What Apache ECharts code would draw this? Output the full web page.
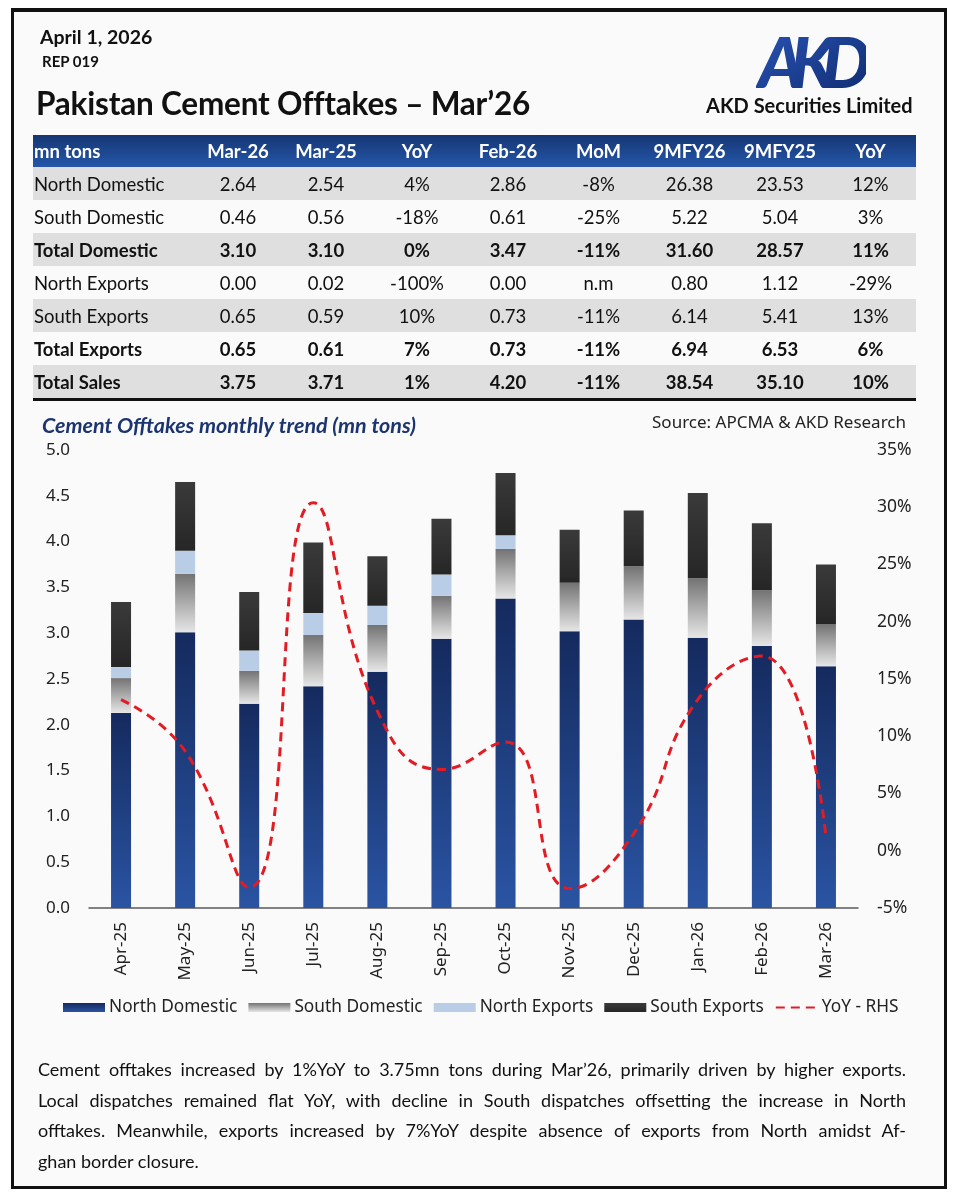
<!DOCTYPE html>
<html>
<head>
<meta charset="utf-8">
<script src="https://cdn.jsdelivr.net/npm/echarts@6/dist/echarts.min.js"></script>
<style>
  html, body { margin:0; padding:0; background:#ffffff; }
  body { width:958px; height:1200px; position:relative; overflow:hidden; font-family: Lato, "Open Sans", sans-serif; color:#111; }
  #frame { position:absolute; left:11px; top:8px; width:936px; height:1181px; box-sizing:border-box; border:3px solid #111; border-top-width:4px; background:#fafafa; }
  #chart { position:absolute; left:0; top:0; width:958px; height:1200px; z-index:2; }
  .abs { position:absolute; z-index:3; white-space:nowrap; }
  #date { left:40px; top:25px; font-size:19.5px; font-weight:700; }
  #rep { left:42px; top:52px; font-size:15px; font-weight:700; }
  #title { left:36px; top:84px; font-size:31.5px; font-weight:700; letter-spacing:-0.2px; }
  #akd { left:706px; top:93px; font-size:20px; font-weight:700; }
  #logo { left:756px; top:28px; }
  table#tbl { position:absolute; left:33px; top:135px; width:883px; border-collapse:collapse; z-index:3; font-size:18.5px; table-layout:fixed; }
  #tbl th { height:32px; padding:0; color:#fff; font-weight:700; text-align:center; }
  #tbl thead tr { background:linear-gradient(#163673, #2457aa); }
  #tbl td { height:33px; padding:0; text-align:center; }
  #tbl td:first-child, #tbl th:first-child { text-align:left; padding-left:1px; }
  #tbl tr.g { background:#dfdfdf; }
  #tbl tr.b td { font-weight:700; }
  #tbl tbody { border-bottom:3px solid #111; }
  #para { left:38px; top:1054px; width:868px; white-space:normal; font-size:18px; line-height:30.7px; color:#111; }
  #para .ln { text-align:justify; text-align-last:justify; white-space:nowrap; }
  #para .ln.last { text-align-last:left; }
</style>
</head>
<body>
<div id="frame"></div>
<div id="chart"></div>
<div class="abs" id="date">April 1, 2026</div>
<div class="abs" id="rep">REP 019</div>
<div class="abs" id="title">Pakistan Cement Offtakes – Mar’26</div>
<div class="abs" id="akd">AKD Securities Limited</div>
<svg class="abs" id="logo" width="110" height="64" viewBox="0 0 110 64">
  <defs>
    <linearGradient id="lg" x1="0" y1="0" x2="1" y2="1">
      <stop offset="0" stop-color="#2a56b8"/>
      <stop offset="1" stop-color="#0f2a6e"/>
    </linearGradient>
  </defs>
  <text x="2" y="60" font-family="Lato, sans-serif" font-weight="900" font-style="italic" font-size="70" letter-spacing="-14" fill="url(#lg)">AKD</text>
</svg>
<table id="tbl">
  <colgroup>
    <col style="width:162px"><col style="width:86px"><col style="width:90px"><col style="width:92px"><col style="width:90px"><col style="width:91px"><col style="width:91px"><col style="width:90px"><col style="width:91px">
  </colgroup>
  <thead><tr id="hdr"></tr></thead>
  <tbody id="tbody"></tbody>
</table>
<div class="abs" id="para">
  <div class="ln">Cement offtakes increased by 1%YoY to 3.75mn tons during Mar’26, primarily driven by higher exports.</div>
  <div class="ln">Local dispatches remained flat YoY, with decline in South dispatches offsetting the increase in North</div>
  <div class="ln">offtakes. Meanwhile, exports increased by 7%YoY despite absence of exports from North amidst Af-</div>
  <div class="ln last">ghan border closure.</div>
</div>

<script>
// ---- table data ----
const tableHeader = ['mn tons','Mar-26','Mar-25','YoY','Feb-26','MoM','9MFY26','9MFY25','YoY'];
const rowNorthDomestic = ['North Domestic','2.64','2.54','4%','2.86','-8%','26.38','23.53','12%'];
const rowSouthDomestic = ['South Domestic','0.46','0.56','-18%','0.61','-25%','5.22','5.04','3%'];
const rowTotalDomestic = ['Total Domestic','3.10','3.10','0%','3.47','-11%','31.60','28.57','11%'];
const rowNorthExports  = ['North Exports','0.00','0.02','-100%','0.00','n.m','0.80','1.12','-29%'];
const rowSouthExports  = ['South Exports','0.65','0.59','10%','0.73','-11%','6.14','5.41','13%'];
const rowTotalExports  = ['Total Exports','0.65','0.61','7%','0.73','-11%','6.94','6.53','6%'];
const rowTotalSales    = ['Total Sales','3.75','3.71','1%','4.20','-11%','38.54','35.10','10%'];

// ---- chart data ----
const months = ['Apr-25','May-25','Jun-25','Jul-25','Aug-25','Sep-25','Oct-25','Nov-25','Dec-25','Jan-26','Feb-26','Mar-26'];
const northDomestic = [2.13,3.01,2.23,2.42,2.58,2.94,3.38,3.02,3.15,2.95,2.86,2.64];
const southDomestic = [0.38,0.64,0.36,0.56,0.51,0.47,0.54,0.53,0.58,0.65,0.61,0.46];
const northExports  = [0.12,0.25,0.22,0.24,0.21,0.23,0.15,0.00,0.00,0.00,0.00,0.00];
const southExports  = [0.71,0.75,0.64,0.77,0.54,0.61,0.68,0.58,0.61,0.93,0.73,0.65];
const yoyPct        = [13.2,8.7,-3.2,30.4,12.2,7.1,9.5,-3.3,1.5,13.2,17.0,1.2];
const leftTicks = {min:0, max:5, interval:0.5};
const rightTicks = {min:-5, max:35, interval:5};

// build table
const hdr = document.getElementById('hdr');
tableHeader.forEach(h => { const th = document.createElement('th'); th.textContent = h; hdr.appendChild(th); });
const rows = [
  [rowNorthDomestic,'g',false],[rowSouthDomestic,'',false],[rowTotalDomestic,'g',true],
  [rowNorthExports,'',false],[rowSouthExports,'g',false],[rowTotalExports,'',true],[rowTotalSales,'g',true]
];
const tb = document.getElementById('tbody');
rows.forEach(([r,cls,bold]) => {
  const tr = document.createElement('tr');
  tr.className = (cls + (bold ? ' b' : '')).trim();
  r.forEach(v => { const td = document.createElement('td'); td.textContent = v; tr.appendChild(td); });
  tb.appendChild(tr);
});

// chart
const chart = echarts.init(document.getElementById('chart'), null, {renderer:'canvas'});
const axisFont = 'Noto Sans';
const grad = (c1, c2) => new echarts.graphic.LinearGradient(0,0,0,1,[{offset:0,color:c1},{offset:1,color:c2}]);
chart.setOption({
  backgroundColor:'transparent',
  animation:false,
  title:[
    {text:'Cement Offtakes monthly trend (mn tons)', left:37, top:410,
     textStyle:{fontFamily:'Lato', fontSize:21.5, fontWeight:'bold', fontStyle:'italic', color:'#1c3570'}},
    {text:'Source: APCMA & AKD Research', right:47, top:410,
     textStyle:{fontFamily:axisFont, fontSize:17, fontWeight:'normal', color:'#222'}}
  ],
  legend:{
    top:994, left:58, itemWidth:42, itemHeight:9, itemGap:11,
    textStyle:{fontFamily:axisFont, fontSize:17.3, color:'#222', padding:[0,0,0,-1]},
    data:[
      {name:'North Domestic', icon:'rect'},
      {name:'South Domestic', icon:'rect'},
      {name:'North Exports', icon:'rect'},
      {name:'South Exports', icon:'rect'},
      {name:'YoY - RHS', itemStyle:{opacity:0}}
    ]
  },
  grid:{left:89, right:100, top:450, bottom:292, containLabel:false},
  xAxis:{
    type:'category', data:months,
    axisLine:{lineStyle:{color:'#595959', width:1.5}},
    axisTick:{show:false},
    axisLabel:{rotate:90, margin:14, fontFamily:axisFont, fontSize:17, color:'#222'}
  },
  yAxis:[
    {type:'value', min:leftTicks.min, max:leftTicks.max, interval:leftTicks.interval,
     splitLine:{show:false}, axisLine:{show:false}, axisTick:{show:false},
     axisLabel:{margin:19, fontFamily:axisFont, fontSize:17, color:'#222', formatter:v=>v.toFixed(1)}},
    {type:'value', min:rightTicks.min, max:rightTicks.max, interval:rightTicks.interval, position:'right',
     splitLine:{show:false}, axisLine:{show:false}, axisTick:{show:false},
     axisLabel:{margin:19, fontFamily:axisFont, fontSize:17.5, color:'#222', formatter:'{value}%'}}
  ],
  series:[
    {name:'North Domestic', type:'bar', stack:'s', barWidth:20, data:northDomestic,
     itemStyle:{color:grad('#152a5e','#2a54a3')}},
    {name:'South Domestic', type:'bar', stack:'s', barWidth:20, data:southDomestic,
     itemStyle:{color:grad('#737373','#e6e6e6')}},
    {name:'North Exports', type:'bar', stack:'s', barWidth:20, data:northExports,
     itemStyle:{color:'#b9cde6'}},
    {name:'South Exports', type:'bar', stack:'s', barWidth:20, data:southExports,
     itemStyle:{color:grad('#3a3a3a','#262626')}},
    {name:'YoY - RHS', type:'line', yAxisIndex:1, data:yoyPct, smooth:0.5, showSymbol:false, symbol:'none',
     lineStyle:{color:'#e31b23', width:3, type:[9,6]}, itemStyle:{color:'#e31b23'}, z:5}
  ]
});
</script>
</body>
</html>
